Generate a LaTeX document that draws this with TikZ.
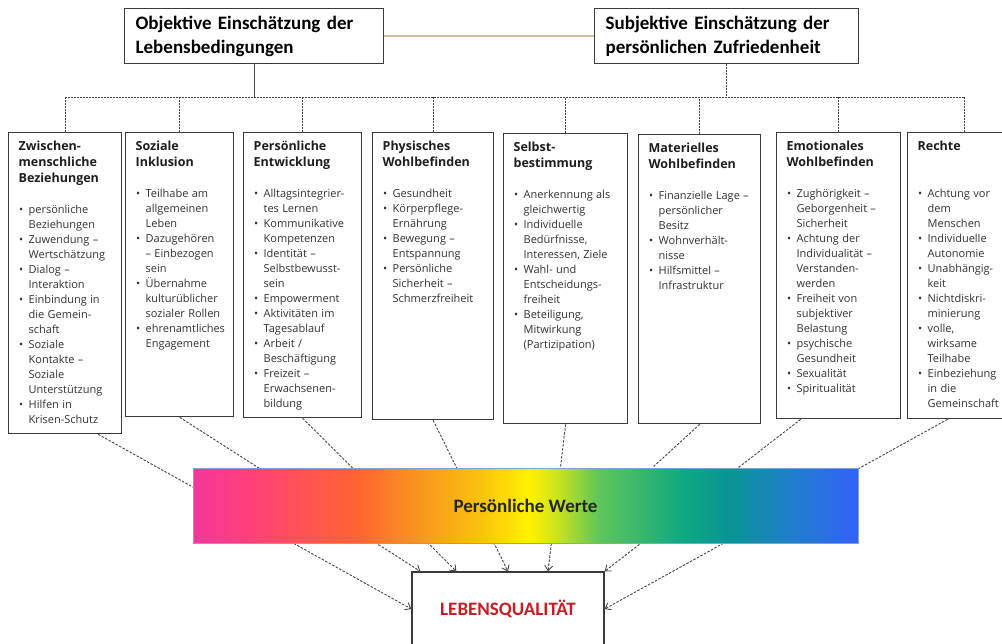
\documentclass[tikz,border=0pt]{standalone}
\usepackage{fontspec}
\setmainfont{Carlito}
\newfontfamily\catfont{Open Sans}
\usetikzlibrary{calc,arrows.meta,backgrounds}

\definecolor{edge}{HTML}{3A3A3A}
\definecolor{flowgray}{HTML}{444444}
\definecolor{tanline}{HTML}{CDBF9F}
\definecolor{barframe}{HTML}{7FA3D4}
\definecolor{lqred}{HTML}{C81E23}
\definecolor{bodygray}{HTML}{333333}
\definecolor{titlegray}{HTML}{1E1E1E}
% rainbow of the values bar
\definecolor{rbA}{HTML}{F2379C}
\definecolor{rbB}{HTML}{FF4078}
\definecolor{rbC}{HTML}{FF6530}
\definecolor{rbD}{HTML}{F8961E}
\definecolor{rbE}{HTML}{FAC10C}
\definecolor{rbF}{HTML}{FFF200}
\definecolor{rbG}{HTML}{C6E21E}
\definecolor{rbH}{HTML}{5EC65A}
\definecolor{rbI}{HTML}{0EA882}
\definecolor{rbJ}{HTML}{0A9496}
\definecolor{rbK}{HTML}{1F7FCC}
\definecolor{rbL}{HTML}{3262FA}
\pgfdeclarehorizontalshading{rainbow}{100bp}{color(0bp)=(rbA); color(25bp)=(rbA);
  color(29.3bp)=(rbB); color(37.5bp)=(rbC); color(42bp)=(rbD); color(46.5bp)=(rbE);
  color(50.3bp)=(rbF); color(52.5bp)=(rbG); color(55.5bp)=(rbH); color(61.9bp)=(rbI);
  color(65.4bp)=(rbJ); color(69.9bp)=(rbK); color(75bp)=(rbL); color(100bp)=(rbL)}

% box contents
\newcommand{\cattitle}[1]{{\fontsize{12.5}{16}\selectfont\bfseries\color{titlegray}#1\par}\vspace{16pt}\fontsize{11}{15}\selectfont}
\newcommand{\itm}[1]{\par\hangindent=10pt\hangafter=1\noindent\makebox[10pt][l]{\hspace{0.5pt}\textbullet}{\let\\\newline#1}\par}

\begin{document}
\begin{tikzpicture}[x=1pt, y=-1pt,
  >={Straight Barb[length=5pt,width=8pt]},
  topbox/.style={draw=edge, line width=1.3pt, fill=white, align=left, text width=#1,
    minimum height=55pt, inner xsep=11pt, anchor=north west,
    font=\bfseries\fontsize{19}{24}\selectfont},
  catbox/.style={draw=edge, line width=1.3pt, fill=white, align=left, anchor=north west,
    inner xsep=10pt, inner ysep=8pt, text height=9.5pt, text=bodygray, font=\catfont},
  busline/.style={draw=flowgray, line width=0.9pt, dash pattern=on 2pt off 1pt},
  flow/.style={draw=flowgray, line width=0.9pt, dash pattern=on 2.5pt off 1.5pt},
  valuebar/.style={draw=barframe, line width=0.9pt, shade, shading=rainbow,
    minimum width=665pt, minimum height=75pt, text=black!85,
    font=\bfseries\fontsize{19}{24}\selectfont},
  resultbox/.style={draw=edge, line width=1.3pt, fill=white, minimum width=192pt,
    minimum height=74pt, text=lqred, font=\bfseries\fontsize{19}{24}\selectfont}]
  \useasboundingbox (0,0) rectangle (1002,643);

  % two views
  \node[topbox=237pt] (ob) at (124,8) {Objektive Einschätzung der\\Lebensbedingungen};
  \node[topbox=242pt] (sub) at (594,8) {Subjektive Einschätzung der\\persönlichen Zufriedenheit};
  \draw[tanline, line width=1.5pt] (ob.east) -- (sub.west);

  % eight domains
  \node[catbox, text width=93pt, text depth=275.5pt] (b1) at (8,132) {\cattitle{Zwischen-\\menschliche\\Beziehungen}
    \itm{persönliche\\Beziehungen}
    \itm{Zuwendung –\\Wertschätzung}
    \itm{Dialog –\\Interaktion}
    \itm{Einbindung in\\die Gemein-\\schaft}
    \itm{Soziale\\Kontakte –\\Soziale\\Unterstützung}
    \itm{Hilfen in\\Krisen-Schutz}};
  \node[catbox, text width=88pt, text depth=258.5pt] (b2) at (125,132) {\cattitle{Soziale\\Inklusion}
    \itm{Teilhabe am\\allgemeinen\\Leben}
    \itm{Dazugehören\\– Einbezogen\\sein}
    \itm{Übernahme\\kulturüblicher\\sozialer Rollen}
    \itm{ehrenamtliches\\Engagement}};
  \node[catbox, text width=98pt, text depth=259.5pt] (b3) at (243,132) {\cattitle{Persönliche\\Entwicklung}
    \itm{Alltagsintegrier-\\tes Lernen}
    \itm{Kommunikative\\Kompetenzen}
    \itm{Identität –\\Selbstbewusst-\\sein}
    \itm{Empowerment}
    \itm{Aktivitäten im\\Tagesablauf}
    \itm{Arbeit /\\Beschäftigung}
    \itm{Freizeit –\\Erwachsenen-\\bildung}};
  \node[catbox, text width=101pt, text depth=261.5pt] (b4) at (372,132) {\cattitle{Physisches\\Wohlbefinden}
    \itm{Gesundheit}
    \itm{Körperpflege-\\Ernährung}
    \itm{Bewegung –\\Entspannung}
    \itm{Persönliche\\Sicherheit –\\Schmerzfreiheit}};
  \node[catbox, text width=104pt, text depth=264.5pt] (b5) at (503,133) {\cattitle{Selbst-\\bestimmung}
    \itm{Anerkennung als\\gleichwertig}
    \itm{Individuelle\\Bedürfnisse,\\Interessen, Ziele}
    \itm{Wahl- und\\Entscheidungs-\\freiheit}
    \itm{Beteiligung,\\Mitwirkung\\(Partizipation)}};
  \node[catbox, text width=102pt, text depth=263.5pt] (b6) at (638,134) {\cattitle{Materielles\\Wohlbefinden}
    \itm{Finanzielle Lage –\\persönlicher\\Besitz}
    \itm{Wohnverhält-\\nisse}
    \itm{Hilfsmittel –\\Infrastruktur}};
  \node[catbox, text width=104pt, text depth=260.5pt] (b7) at (776,132) {\cattitle{Emotionales\\Wohlbefinden}
    \itm{Zughörigkeit –\\Geborgenheit –\\Sicherheit}
    \itm{Achtung der\\Individualität –\\Verstanden-\\werden}
    \itm{Freiheit von\\subjektiver\\Belastung}
    \itm{psychische\\Gesundheit}
    \itm{Sexualität}
    \itm{Spiritualität}};
  \node[catbox, text width=94pt, text depth=260.5pt] (b8) at (907,132) {\cattitle{Rechte\\\mbox{}}
    \itm{Achtung vor\\dem\\Menschen}
    \itm{Individuelle\\Autonomie}
    \itm{Unabhängig-\\keit}
    \itm{Nichtdiskri-\\minierung}
    \itm{volle,\\wirksame\\Teilhabe}
    \itm{Einbeziehung\\in die\\Gemeinschaft}};

  \node[valuebar] (bar) at (525.5,505.5) {Persönliche Werte};
  \node[resultbox] (lq) at (508,609) {LEBENSQUALITÄT};

  \begin{scope}[on background layer]
    % bus from the two views to the domains
    \coordinate (bus) at (0,97);
    \draw[flowgray, line width=0.9pt] (ob.south) -- (ob.south |- bus);
    \draw[busline] (sub.south) -- (sub.south |- bus);
    \draw[busline] (b1.north |- bus) -- (b8.north |- bus);
    \foreach \i in {1,...,8}
      \draw[busline] (b\i.north) -- (b\i.north |- bus);

    % domains through the values to quality of life
    \draw[flow,->] ($(b1.south)+(33,0)$) -- (lq.west);
    \draw[flow,->] (b2.south) -- ($(lq.north west)+(9,0)$);
    \draw[flow,->] (b3.south) -- ($(lq.north west)+(45,0)$);
    \draw[flow,->] (b4.south) -- (lq.north);
    \draw[flow,->] (b5.south) -- ($(lq.north)+(40,0)$);
    \draw[flow] (b6.south) -- ($(bar.north)+(127,0)$);
    \draw[flow,->] ($(b7.south)+(-38,0)$) -- (lq.north east);
    \draw[flow,->] ($(b8.south)+(-17,0)$) -- (lq.east);
  \end{scope}
\end{tikzpicture}
\end{document}
